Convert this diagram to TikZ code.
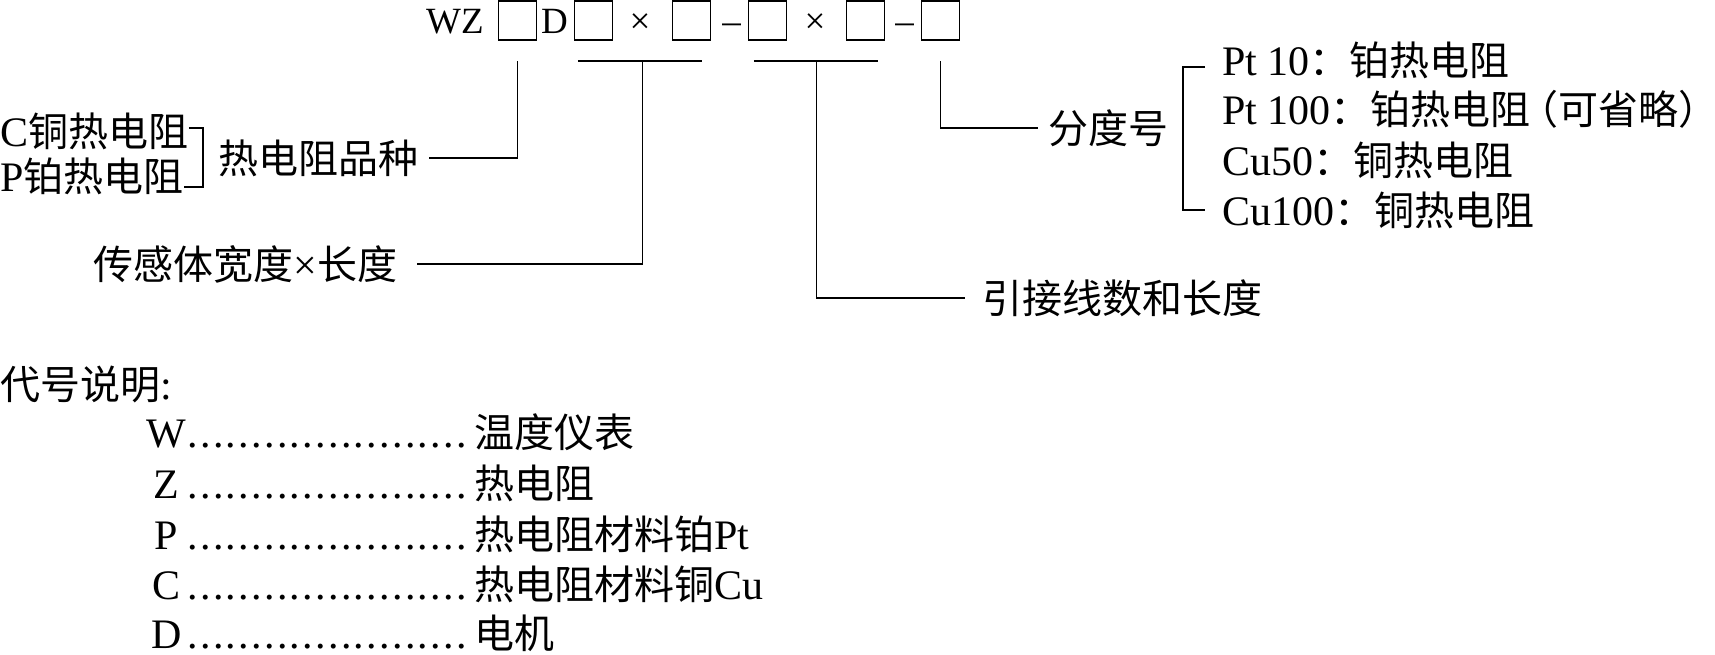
\documentclass[tikz,border=0pt]{standalone}
\usepackage{fontspec}
\setmainfont{Liberation Serif}
\newfontfamily\cjk{Noto Sans CJK SC}
\usetikzlibrary{calc}
\newcommand{\zh}[1]{{\cjk\fontsize{20pt}{24pt}\selectfont #1}}
\newcommand{\leaderdots}{\hbox to 144pt{\leaders\hbox to 6.4pt{\hss.\hss}\hfill}}
\tikzset{
  link/.style={draw=black, line width=0.7pt},
  cell/.style={draw=black, line width=0.7pt, minimum width=19pt, minimum height=19.5pt, inner sep=0pt},
  txt/.style={inner sep=0pt, font=\fontsize{21pt}{25pt}\selectfont},
  code/.style={inner sep=0pt, font=\fontsize{18.5pt}{22pt}\selectfont},
}

\begin{document}
\begin{tikzpicture}[x=0.5pt, y=-0.5pt,
  row/.style={txt, anchor=west},
  sym/.style={code, anchor=base}]
\useasboundingbox (0,0) rectangle (1715,654);

% ---------------- the code ----------------
\foreach \k/\x in {1/517.5, 2/593.5, 3/691.5, 4/767.5, 5/865.5, 6/940.5}
  \node[cell] (b\k) at (\x,20.5) {};
\node[sym] (wz) at (455,33) {WZ};
\node[sym] (d) at (554.5,33) {D};
\node[sym] (x1) at (640,33) {×};
\node[sym] (h1) at (731.5,33) {–};
\node[sym] (x2) at (815,33) {×};
\node[sym] (h2) at (904.5,33) {–};

% ---------------- what each field means ----------------
\node[row] (cu) at (0,131) {C\zh{铜热电阻}};
\node[row] (pt) at (0,176) {P\zh{铂热电阻}};
\node[row] (kind) at (218,158) {\zh{热电阻品种}};
\node[row] (sensor) at (93,264) {\zh{传感体宽度}×\zh{长度}};
\node[row] (leads) at (982,298) {\zh{引接线数和长度}};
\node[row] (grade) at (1048,128) {\zh{分度号}};
\node[row] (r1) at (1222,60) {Pt 10\zh{：铂热电阻}};
\node[row] (r2) at (1222,109) {Pt 100\zh{：铂热电阻}\makebox[14pt][r]{\zh{（}}\zh{可省略}\makebox[10pt][l]{\zh{）}}};
\node[row] (r3) at (1222,160) {Cu50\zh{：铜热电阻}};
\node[row] (r4) at (1222,210) {Cu100\zh{：铜热电阻}};

% the ties under the boxes
\coordinate (lvl) at (0,61);
\coordinate (s2) at ([xshift=2pt]b2.south west);
\coordinate (e3) at ([xshift=-4.5pt]b3.south east);
\coordinate (s4) at ([xshift=3pt]b4.south west);
\coordinate (e5) at ([xshift=-3.5pt]b5.south east);
\coordinate (m1) at ($(b2.south)!0.5!(b3.south)$);
\coordinate (m2) at ($(b4.south)!0.5!(b5.south)$);
\draw[link] (s2 |- lvl) -- (e3 |- lvl);
\draw[link] (s4 |- lvl) -- (e5 |- lvl);
\draw[link] (b1.south |- lvl) |- ([xshift=5pt]kind.east);
\draw[link] (m1 |- lvl) |- ([xshift=10pt]sensor.east);
\draw[link] (m2 |- lvl) |- ([xshift=-8.5pt]leads.west);
\draw[link] (b6.south |- lvl) |- ([xshift=-5pt]grade.west);

% brackets
\draw[link] ([yshift=1.5pt]cu.east) -| ([xshift=-7.5pt]kind.west) |- ([yshift=-5.5pt]pt.east);
\draw[link] ([xshift=-8.5pt,yshift=-3.5pt]r1.west) -- ++(-22,0) |- ([xshift=-8.5pt]r4.west);

% ---------------- legend ----------------
\node[row] (key) at (0,384) {\zh{代号说明}:};
\foreach \c/\t/\y in {W/{\zh{温度仪表}}/432, Z/{\zh{热电阻}}/483, P/{\zh{热电阻材料铂}Pt}/534,
                      C/{\zh{热电阻材料铜}Cu}/584, D/{\zh{电机}}/633}
  \node[row] (key\c) at (146,\y) {\makebox[20pt]{\c}\leaderdots\t};
\end{tikzpicture}
\end{document}
